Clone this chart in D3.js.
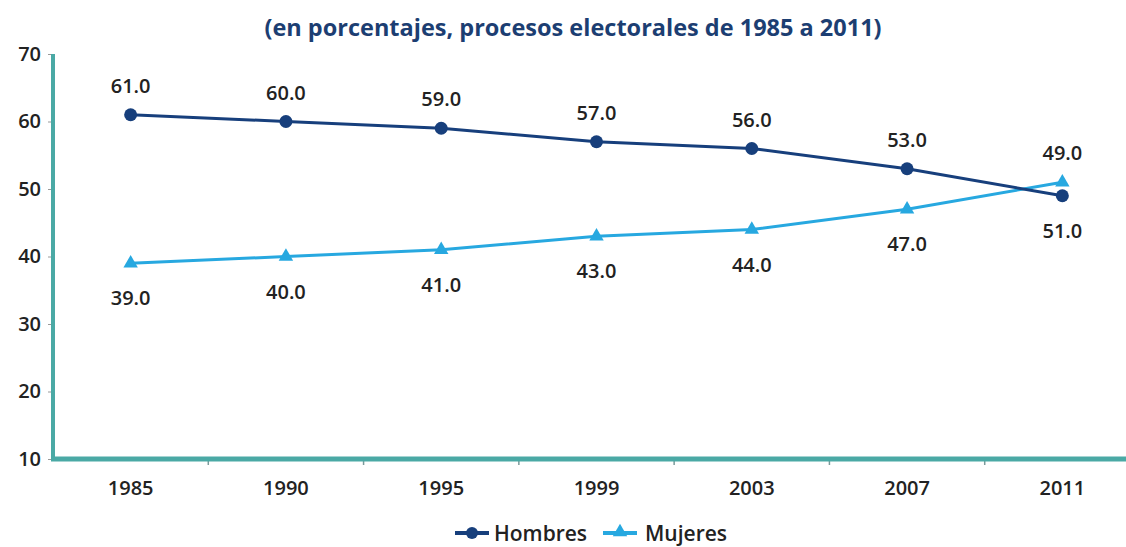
<!DOCTYPE html>
<html>
  <head>
    <meta charset="utf-8">
    <script src="https://d3js.org/d3.v7.min.js"></script>
    <style>
      body { margin: 0; background: #fff; }
      text { font-family: "Open Sans", "Noto Sans", sans-serif; }
    </style>
  </head>
  <body>
    <div class="visual"></div>
    <script>
      // datos del grafico
      let years = ['1985', '1990', '1995', '1999', '2003', '2007', '2011'];
      let hombres = [61, 60, 59, 57, 56, 53, 49];
      let mujeres = [39, 40, 41, 43, 44, 47, 51];
      let yTicks = [10, 20, 30, 40, 50, 60, 70];
      let seriesNames = ['Hombres', 'Mujeres'];

      let width = 1126;
      let height = 547;
      let darkBlue = '#173f7c';
      let lightBlue = '#27a8e0';
      let teal = '#4aa9a5';

      let svg = d3.select('.visual').append('svg')
        .attr('width', width)
        .attr('height', height);

      let x = d3.scaleBand()
        .domain(years)
        .range([53, 1140]);

      let y = d3.scaleLinear()
        .domain([10, 70])
        .range([459, 54]);

      // titulo
      svg.append('text')
        .attr('x', 573)
        .attr('y', 36)
        .attr('text-anchor', 'middle')
        .attr('font-size', 23.5)
        .attr('font-weight', 'bold')
        .attr('fill', '#1c3e72')
        .text('(en porcentajes, procesos electorales de 1985 a 2011)');

      // eje y
      let yAxis = svg.append('g')
        .attr('transform', 'translate(53,0)')
        .call(d3.axisLeft(y).tickValues(yTicks).tickSize(5).tickPadding(7));
      yAxis.select('.domain').remove();
      yAxis.selectAll('.tick line').attr('stroke', '#999');
      yAxis.selectAll('.tick text')
        .attr('font-size', 20)
        .attr('font-weight', 600)
        .attr('fill', '#222')
        .attr('font-family', '"Open Sans", sans-serif');

      // eje x
      let xAxis = svg.append('g')
        .attr('transform', 'translate(0,459)')
        .call(d3.axisBottom(x).tickSize(0).tickPadding(22));
      xAxis.select('.domain').remove();
      xAxis.selectAll('.tick text')
        .attr('font-size', 20)
        .attr('font-weight', 600)
        .attr('fill', '#222')
        .attr('font-family', '"Open Sans", sans-serif');

      // marcas entre categorias
      svg.selectAll('.xsep')
        .data(years.slice(1))
        .enter().append('line')
        .attr('class', 'xsep')
        .attr('x1', d => x(d))
        .attr('x2', d => x(d))
        .attr('y1', 459)
        .attr('y2', 465)
        .attr('stroke', '#7a9a9a')
        .attr('stroke-width', 1.5);

      svg.append('line')
        .attr('x1', 53).attr('x2', 53)
        .attr('y1', y(70)).attr('y2', 461)
        .attr('stroke', teal)
        .attr('stroke-width', 4);
      svg.append('line')
        .attr('x1', 51).attr('x2', width)
        .attr('y1', 459).attr('y2', 459)
        .attr('stroke', teal)
        .attr('stroke-width', 5);

      let cx = d => x(d) + x.bandwidth() / 2;

      let line = d3.line()
        .x((d, i) => cx(years[i]))
        .y(d => y(d));

      svg.append('path')
        .datum(mujeres)
        .attr('d', line)
        .attr('fill', 'none')
        .attr('stroke', lightBlue)
        .attr('stroke-width', 3);

      svg.append('path')
        .datum(hombres)
        .attr('d', line)
        .attr('fill', 'none')
        .attr('stroke', darkBlue)
        .attr('stroke-width', 3);

      let tri = d3.symbol().type(d3.symbolTriangle).size(90);

      svg.selectAll('.muj')
        .data(mujeres)
        .enter().append('path')
        .attr('class', 'muj')
        .attr('d', tri)
        .attr('transform', (d, i) => 'translate(' + cx(years[i]) + ',' + y(d) + ')')
        .attr('fill', lightBlue);

      svg.selectAll('.hom')
        .data(hombres)
        .enter().append('circle')
        .attr('class', 'hom')
        .attr('cx', (d, i) => cx(years[i]))
        .attr('cy', d => y(d))
        .attr('r', 6.5)
        .attr('fill', darkBlue);

      // etiquetas: hombres arriba, mujeres abajo
      svg.selectAll('.lblH')
        .data(hombres)
        .enter().append('text')
        .attr('class', 'lblH')
        .attr('x', (d, i) => cx(years[i]))
        .attr('y', (d, i) => Math.min(y(d), y(mujeres[i])) - 22)
        .attr('text-anchor', 'middle')
        .attr('font-size', 20)
        .attr('font-weight', 600)
        .attr('fill', '#222')
        .text(d => d.toFixed(1));

      svg.selectAll('.lblM')
        .data(mujeres)
        .enter().append('text')
        .attr('class', 'lblM')
        .attr('x', (d, i) => cx(years[i]))
        .attr('y', (d, i) => Math.max(y(d), y(hombres[i])) + 42)
        .attr('text-anchor', 'middle')
        .attr('font-size', 20)
        .attr('font-weight', 600)
        .attr('fill', '#222')
        .text(d => d.toFixed(1));

      // leyenda
      let legend = svg.append('g').attr('transform', 'translate(455,533)');
      legend.append('line')
        .attr('x1', 0).attr('x2', 34).attr('y1', 0).attr('y2', 0)
        .attr('stroke', darkBlue).attr('stroke-width', 4);
      legend.append('circle')
        .attr('cx', 17).attr('cy', 0).attr('r', 6).attr('fill', darkBlue);
      legend.append('text')
        .attr('x', 39).attr('y', 7.5)
        .attr('font-size', 21).attr('font-weight', 600).attr('fill', '#222')
        .text(seriesNames[0]);
      legend.append('line')
        .attr('x1', 148).attr('x2', 182).attr('y1', 0).attr('y2', 0)
        .attr('stroke', lightBlue).attr('stroke-width', 4);
      legend.append('path')
        .attr('d', tri)
        .attr('transform', 'translate(165,-1)')
        .attr('fill', lightBlue);
      legend.append('text')
        .attr('x', 190).attr('y', 7.5)
        .attr('font-size', 21).attr('font-weight', 600).attr('fill', '#222')
        .text(seriesNames[1]);
    </script>
  </body>
</html>
